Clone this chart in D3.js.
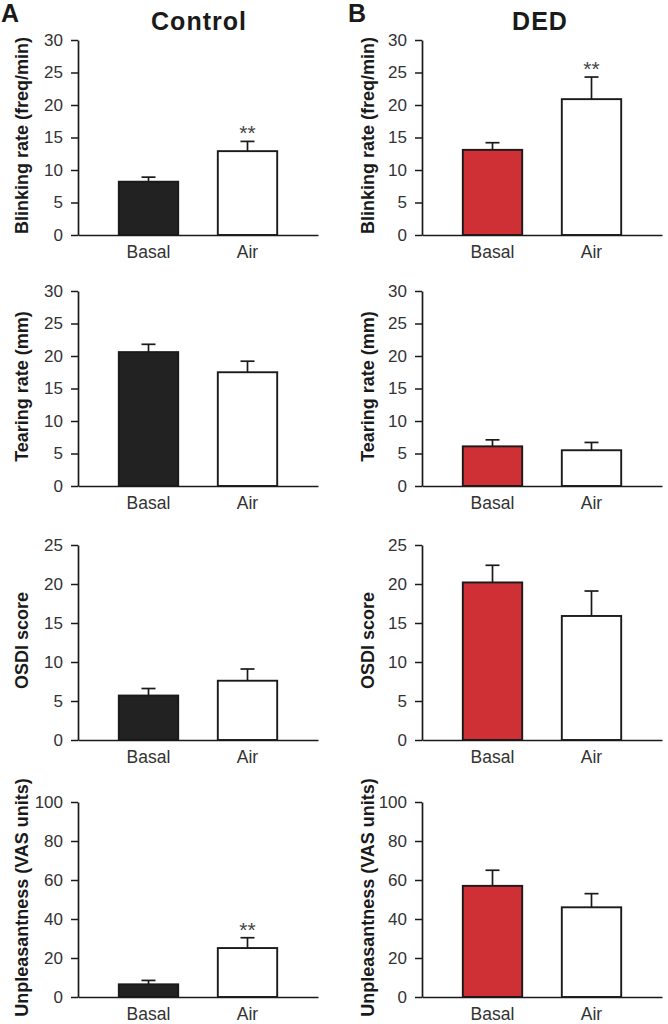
<!DOCTYPE html>
<html>
<head>
<meta charset="utf-8">
<script src="https://cdn.jsdelivr.net/npm/d3@7"></script>
<style>
  body { margin: 0; background: #fff; }
  svg { display: block; font-family: "Liberation Sans", Arial, sans-serif; }
</style>
</head>
<body>
<svg id="fig" width="668" height="1024"></svg>
<script>
// data
var groups = ["Control", "DED"];
var panelLetters = ["A", "B"];
var categories = ["Basal", "Air"];
var measures = ["Blinking rate (freq/min)", "Tearing rate (mm)", "OSDI score", "Unpleasantness (VAS units)"];
var yMax = [30, 30, 25, 100];
var yStep = [5, 5, 5, 20];

var controlMeans = [[8.2, 12.9], [20.6, 17.5], [5.7, 7.6], [6.5, 25.1]];
var controlErr   = [[0.7, 1.5], [1.2, 1.7], [0.9, 1.5], [2.0, 5.3]];
var controlSig   = [["", "**"], ["", ""], ["", ""], ["", "**"]];

var dedMeans = [[13.1, 20.9], [6.1, 5.5], [20.2, 15.9], [57, 46]];
var dedErr   = [[1.1, 3.4], [1.0, 1.2], [2.2, 3.2], [8, 7]];
var dedSig   = [["", "**"], ["", ""], ["", ""], ["", ""]];

var basalColor = ["#222222", "#cf3035"];
var ink = "#1a1a1a";

var svg = d3.select("#fig");

var colX = [78, 422];          // y-axis position of each column
var rowTop = [40, 291, 545, 802];
var plotH = 195, plotW = 240;

var allMeans = [controlMeans, dedMeans],
    allErr = [controlErr, dedErr],
    allSig = [controlSig, dedSig];

// column headers
groups.forEach(function(g, c) {
    svg.append("text")
        .attr("x", c == 0 ? 199 : 540)
        .attr("y", 30)
        .attr("text-anchor", "middle")
        .style("font-size", "25px")
        .style("font-weight", "bold")
        .style("letter-spacing", "1px")
        .style("fill", ink)
        .text(g);
    svg.append("text")
        .attr("x", c == 0 ? 1 : 348)
        .attr("y", 22)
        .style("font-size", "25px")
        .style("font-weight", "bold")
        .style("fill", ink)
        .text(panelLetters[c]);
});

groups.forEach(function(g, c) {
    measures.forEach(function(m, r) {
        var means = allMeans[c][r], errs = allErr[c][r], sig = allSig[c][r];

        var gp = svg.append("g")
            .attr("transform", "translate(" + colX[c] + "," + rowTop[r] + ")");

        var y = d3.scaleLinear().domain([0, yMax[r]]).range([plotH, 0]);
        var x = d3.scaleBand().domain(categories)
            .range([21, 219]).paddingInner(0.4).paddingOuter(0.2);

        var bars = gp.selectAll(".bar").data(categories).enter();

        // error bars (upper only)
        bars.append("line")
            .attr("x1", function(d) { return x(d) + x.bandwidth() / 2; })
            .attr("x2", function(d) { return x(d) + x.bandwidth() / 2; })
            .attr("y1", function(d, i) { return y(means[i]); })
            .attr("y2", function(d, i) { return y(means[i] + errs[i]); })
            .style("stroke", ink).style("stroke-width", 1.7);
        bars.append("line")
            .attr("x1", function(d) { return x(d) + x.bandwidth() / 2 - 7; })
            .attr("x2", function(d) { return x(d) + x.bandwidth() / 2 + 7; })
            .attr("y1", function(d, i) { return y(means[i] + errs[i]); })
            .attr("y2", function(d, i) { return y(means[i] + errs[i]); })
            .style("stroke", ink).style("stroke-width", 1.7);

        bars.append("rect")
            .attr("x", function(d) { return x(d); })
            .attr("y", function(d, i) { return y(means[i]); })
            .attr("width", x.bandwidth())
            .attr("height", function(d, i) { return plotH - y(means[i]); })
            .attr("fill", function(d, i) { return i == 0 ? basalColor[c] : "#fff"; })
            .style("stroke", ink)
            .style("stroke-width", 1.9);

        bars.append("text")
            .attr("x", function(d) { return x(d) + x.bandwidth() / 2; })
            .attr("y", function(d, i) { return y(means[i] + errs[i]) - 1; })
            .attr("text-anchor", "middle")
            .style("font-size", "21px")
            .style("fill", "#444")
            .text(function(d, i) { return sig[i]; });

        // y axis
        var yAxis = gp.append("g")
            .call(d3.axisLeft(y)
                .tickValues(d3.range(0, yMax[r] + 1, yStep[r]))
                .tickSize(7).tickSizeOuter(0).tickPadding(8));
        yAxis.select(".domain").style("stroke", ink).style("stroke-width", 1.7);
        yAxis.selectAll(".tick line").style("stroke", ink).style("stroke-width", 1.5);
        yAxis.selectAll(".tick text")
            .style("font-family", "Liberation Sans, Arial, sans-serif")
            .style("font-size", "17px").style("fill", "#333");

        // x axis
        var xAxis = gp.append("g")
            .attr("transform", "translate(0," + plotH + ")")
            .call(d3.axisBottom(d3.scaleLinear().range([0, plotW])).ticks(0).tickSizeOuter(0));
        xAxis.select(".domain").style("stroke", ink).style("stroke-width", 1.7);

        var xLab = gp.append("g")
            .attr("transform", "translate(0," + plotH + ")")
            .call(d3.axisBottom(x).tickSize(0).tickPadding(11));
        xLab.select(".domain").remove();
        xLab.selectAll(".tick text")
            .style("font-family", "Liberation Sans, Arial, sans-serif")
            .style("font-size", "17.5px").style("fill", "#333");

        // y label
        gp.append("text")
            .attr("transform", "translate(" + (c == 0 ? -50 : -48) + "," + (plotH / 2 - 2) + ") rotate(-90)")
            .attr("text-anchor", "middle")
            .style("font-size", "18px")
            .style("font-weight", "bold")
            .style("fill", ink)
            .text(m);
    });
});
</script>
</body>
</html>
